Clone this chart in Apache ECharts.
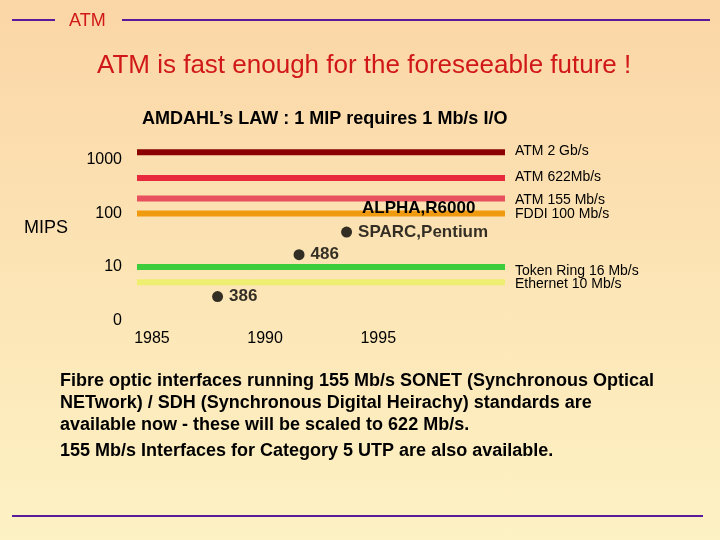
<!DOCTYPE html>
<html><head><meta charset="utf-8">
<script src="https://cdn.jsdelivr.net/npm/echarts@6/dist/echarts.min.js"></script>
<style>html,body{margin:0;padding:0}#c{width:720px;height:540px;background:linear-gradient(#fbd6a6,#fdf2c4)}</style>
</head><body><div id="c"></div>
<script>
const lineNames = ['ATM 2 Gb/s','ATM 622Mb/s','ATM 155 Mb/s','FDDI 100 Mb/s','Token Ring 16 Mb/s','Ethernet 10 Mb/s'];
const lineValues = [1400, 460, 190, 100, 10, 5.2];
const lineColors = ['#8b0000','#e8283c','#e8505e','#f09a10','#3ccc3c','#eeee70'];
const cpuNames = ['386','486','SPARC,Pentium'];
const cpuPoints = [[1987.9,2.8],[1991.5,17],[1993.6,45]];
const yearTicks = [1985,1990,1995];
const mipsTicks = [1,10,100,1000];
const X0 = 1984.34, X1 = 2000.6;

const F = 'Liberation Sans, Arial, sans-serif';
const series = lineValues.map((v,i)=>({type:'line',symbol:'none',silent:true,z:1,
  data:[[X0,v],[X1,v]],lineStyle:{color:lineColors[i],width:6}}));
series.push({type:'scatter',symbolSize:11,z:3,itemStyle:{color:'#000'},
  data:cpuPoints.map((p,i)=>({value:p,name:cpuNames[i]})),
  label:{show:true,position:'right',distance:6,formatter:p=>p.name,color:'#000',fontSize:17,fontWeight:'bold',fontFamily:F}});

const t=(x,y,s,o={})=>({type:'text',left:x,top:y,z:100,style:Object.assign({text:s,fill:'#000',font:'bold 18px '+F},o.style||{})});
const chart = echarts.init(document.getElementById('c'));
chart.setOption({
  animation:false,
  grid:{left:137,right:215,top:106.5,bottom:219.5},
  xAxis:{type:'value',min:X0,max:X1,axisLine:{show:false},axisTick:{show:false},splitLine:{show:false},
    axisLabel:{customValues:yearTicks,margin:10,fontSize:16,color:'#000',fontFamily:F,formatter:v=>String(v)}},
  yAxis:{type:'log',min:1,max:10000,axisLine:{show:false},axisTick:{show:false},splitLine:{show:false},
    axisLabel:{customValues:mipsTicks,margin:15,fontSize:16,color:'#000',fontFamily:F,
      formatter:v=>v===1?'0':String(v)}},
  series,
  graphic:[
    {type:'line',shape:{x1:12,y1:20,x2:55,y2:20},style:{stroke:'#5a1a9a',lineWidth:2}},
    {type:'line',shape:{x1:122,y1:20,x2:710,y2:20},style:{stroke:'#5a1a9a',lineWidth:2}},
    {type:'line',shape:{x1:12,y1:516,x2:703,y2:516},style:{stroke:'#5a1a9a',lineWidth:2}},
    t(69,12,'ATM',{style:{fill:'#d01818',font:'18px '+F}}),
    t(97,53,'ATM is fast enough for the foreseeable future !',{style:{fill:'#d01818',font:'26px '+F}}),
    t(142,110,'AMDAHL’s LAW : 1 MIP requires 1 Mb/s I/O',{style:{font:'bold 18px '+F}}),
    t(24,219,'MIPS',{style:{font:'18px '+F}}),
    t(362,200,'ALPHA,R6000',{style:{font:'bold 17px '+F}}),
    t(515,144,'ATM 2 Gb/s',{style:{font:'14px '+F}}),
    t(515,170,'ATM 622Mb/s',{style:{font:'14px '+F}}),
    t(515,193,'ATM 155 Mb/s',{style:{font:'14px '+F}}),
    t(515,207,'FDDI 100 Mb/s',{style:{font:'14px '+F}}),
    t(515,264,'Token Ring 16 Mb/s',{style:{font:'14px '+F}}),
    t(515,277,'Ethernet 10 Mb/s',{style:{font:'14px '+F}}),
    t(60,372,'Fibre optic interfaces running 155 Mb/s SONET (Synchronous Optical'),
    t(60,394,'NETwork) / SDH (Synchronous Digital Heirachy) standards are'),
    t(60,416,'available now - these will be scaled to 622 Mb/s.'),
    t(60,442,'155 Mb/s Interfaces for Category 5 UTP are also available.')
  ]
});
</script></body></html>
